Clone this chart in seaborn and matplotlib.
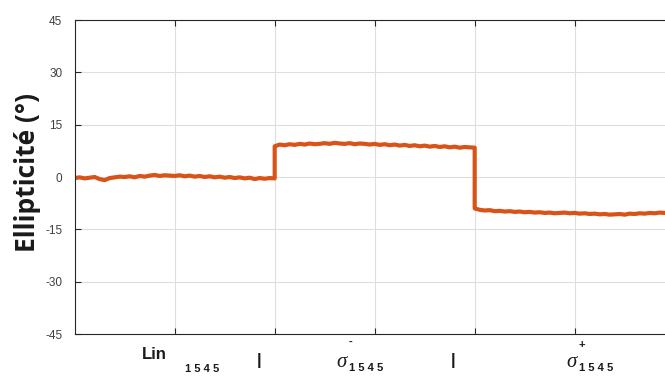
import matplotlib
matplotlib.use("Agg")
import matplotlib.pyplot as plt
import seaborn as sns
import numpy as np
import pandas as pd

# valeurs (pas de 0.05 en x)
lin_vals = [-0.3, -0.1, -0.4, -0.2, 0.0, -0.6, -0.9, -0.3, -0.1, 0.1,
            0.0, 0.2, -0.1, 0.3, 0.1, 0.4, 0.6, 0.3, 0.5, 0.4,
            0.3, 0.5, 0.2, 0.4, 0.1, 0.3, 0.0, 0.2, -0.1, 0.1,
            -0.2, 0.0, -0.3, -0.1, -0.4, -0.2, -0.6, -0.3, -0.5, -0.3, -0.4]
sig_moins_vals = [8.8, 9.3, 9.1, 9.4, 9.2, 9.5, 9.3, 9.6, 9.4, 9.5,
                  9.7, 9.5, 9.8, 9.6, 9.5, 9.7, 9.4, 9.6, 9.5, 9.3,
                  9.5, 9.2, 9.4, 9.1, 9.3, 9.0, 9.2, 8.9, 9.1, 8.8,
                  9.0, 8.7, 8.9, 8.6, 8.8, 8.5, 8.7, 8.4, 8.6, 8.5, 8.4]
sig_plus_vals = [-9.0, -9.4, -9.6, -9.5, -9.8, -9.7, -9.9, -9.8, -10.0, -9.9,
                 -10.1, -10.0, -10.2, -10.1, -10.3, -10.2, -10.4, -10.3, -10.2, -10.4,
                 -10.3, -10.5, -10.4, -10.6, -10.5, -10.7, -10.6, -10.8, -10.7, -10.6,
                 -10.8, -10.5, -10.6, -10.4, -10.5, -10.3, -10.4, -10.2, -10.3]

x_lin = [i * 0.05 for i in range(len(lin_vals))]
x_moins = [2.0 + i * 0.05 for i in range(len(sig_moins_vals))]
x_plus = [4.0 + i * 0.05 for i in range(len(sig_plus_vals))]

df = pd.DataFrame({
    "x": x_lin + x_moins + x_plus,
    "ellipticite": lin_vals + sig_moins_vals + sig_plus_vals,
})

y_ticks = [-45, -30, -15, 0, 15, 30, 45]
x_ticks = [1, 2, 3, 4, 5]

sns.set_style("whitegrid")
plt.rcParams["axes.unicode_minus"] = False
orange = "#D95319"

fig = plt.figure(figsize=(6.65, 3.76), dpi=100)
ax = fig.add_axes([0.1123, 0.1117, 0.8877, 0.8351])

sns.lineplot(data=df, x="x", y="ellipticite", ax=ax, color=orange,
             linewidth=3.0, estimator=None, sort=False)

ax.set_xlim(0, 5.903)
ax.set_ylim(-45, 45)
ax.set_yticks(y_ticks)
ax.set_xticks(x_ticks)
ax.set_xticklabels([])
ax.grid(True, color="#dedede", linewidth=0.8)
ax.set_facecolor("white")
for cote in ["left", "top", "bottom"]:
    ax.spines[cote].set_visible(True)
    ax.spines[cote].set_color("#262626")
    ax.spines[cote].set_linewidth(0.8)
ax.spines["right"].set_visible(False)
ax.tick_params(axis="both", direction="in", length=4, width=0.8, color="#262626",
               top=True, bottom=True, left=True, right=False)
ax.tick_params(axis="y", labelsize=8.5, labelcolor="#404040", pad=9)
for lab in ax.get_yticklabels():
    lab.set_family("Liberation Sans")
ax.set_xlabel("")
ax.set_ylabel("Ellipticité (°)", fontsize=19, fontweight="bold", family="Open Sans",
              color="#1a1a1a")
ax.yaxis.set_label_coords(-0.057, 0.515)

trans = ax.get_xaxis_transform()
gras = dict(transform=trans, ha="center", va="center", fontweight="bold",
            family="Liberation Sans", color="#1a1a1a", clip_on=False)
ax.text(0.793, -0.064, "Lin", fontsize=12, **gras)
ax.text(1.273, -0.111, "1 5 4 5", fontsize=8, **gras)
ax.text(1.843, -0.083, "|", fontsize=12, **gras)
ax.text(2.763, -0.025, "-", fontsize=8, **gras)
ax.text(2.913, -0.108, "1 5 4 5", fontsize=8, **gras)
ax.text(3.783, -0.083, "|", fontsize=12, **gras)
ax.text(5.073, -0.035, "+", fontsize=8, **gras)
ax.text(5.213, -0.108, "1 5 4 5", fontsize=8, **gras)
sigma = dict(transform=trans, ha="center", va="center", family="Liberation Serif",
             style="italic", fontsize=15, color="#1a1a1a", clip_on=False)
ax.text(2.673, -0.092, "σ", **sigma)
ax.text(4.973, -0.092, "σ", **sigma)

fig.savefig("out.png", dpi=100)
